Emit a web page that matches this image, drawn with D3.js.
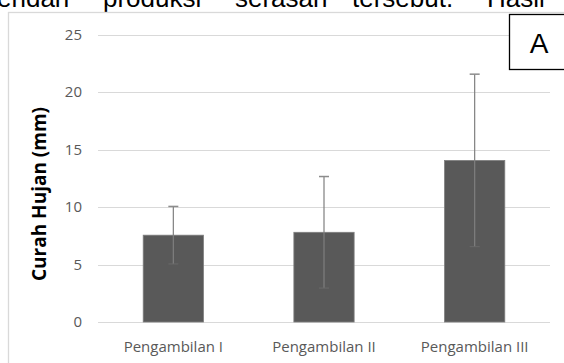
<!DOCTYPE html>
<html>
<head>
<meta charset="utf-8">
<script src="https://cdn.jsdelivr.net/npm/d3@7"></script>
<style>
  html, body { margin: 0; padding: 0; background: #fff; }
  svg { display: block; }
</style>
</head>
<body>
<svg id="chart" width="564" height="363"></svg>
<script>
// Rainfall per sampling round, mean with standard deviation
const categories = ["Pengambilan I", "Pengambilan II", "Pengambilan III"];
const means = [7.55, 7.8, 14.05];
const errors = [2.5, 4.85, 7.5];
const yTicks = [0, 5, 10, 15, 20, 25];
const bodyWords = ["endan", "produksi", "serasan", "tersebut.", "Hasil"];

const svg = d3.select("#chart");
const W = 564, H = 363;

// Running paragraph text above the figure (clipped by the page top)
const wordX = [-3, 103, 235, 352, 487];
svg.selectAll("text.body").data(bodyWords).join("text")
  .attr("class", "body")
  .attr("x", (d, i) => wordX[i])
  .attr("y", 7)
  .attr("font-family", "Liberation Sans, Arial, sans-serif")
  .attr("font-size", 26)
  .attr("fill", "#000")
  .text(d => d);

// Chart area border
svg.append("rect")
  .attr("x", 8.5).attr("y", 12.5)
  .attr("width", W + 10).attr("height", H + 10)
  .attr("fill", "#fff")
  .attr("stroke", "#d9d9d9").attr("stroke-width", 1.3);

const plot = { left: 98, right: 550, top: 34.5, bottom: 322 };

const x = d3.scaleBand().domain(categories)
  .range([plot.left, plot.right]).paddingInner(0.6).paddingOuter(0.3);
const y = d3.scaleLinear().domain([0, 25]).range([plot.bottom, plot.top]);

// Gridlines
svg.append("g").selectAll("line").data(yTicks).join("line")
  .attr("x1", plot.left).attr("x2", plot.right)
  .attr("y1", d => Math.round(y(d)) + 0.5).attr("y2", d => Math.round(y(d)) + 0.5)
  .attr("stroke", "#d9d9d9").attr("stroke-width", 1);

const labelFont = "Open Sans, Liberation Sans, sans-serif";

// Y axis tick labels
const yAxis = d3.axisLeft(y).tickValues(yTicks).tickSize(0).tickPadding(0);
const yg = svg.append("g").attr("transform", `translate(${plot.left - 16},0)`).call(yAxis);
yg.select(".domain").remove();
yg.selectAll("text")
  .attr("font-family", labelFont)
  .attr("font-size", 15).attr("fill", "#595959");

// X axis category labels
const xAxis = d3.axisBottom(x).tickSize(0).tickPadding(0);
const xg = svg.append("g").attr("transform", `translate(0,352)`).call(xAxis);
xg.select(".domain").remove();
xg.selectAll("text")
  .attr("y", 0).attr("dy", 0)
  .attr("font-family", labelFont)
  .attr("font-size", 15).attr("fill", "#595959");

// Bars
svg.append("g").selectAll("rect").data(means).join("rect")
  .attr("x", (d, i) => x(categories[i]))
  .attr("width", x.bandwidth())
  .attr("y", d => y(d))
  .attr("height", d => y(0) - y(d))
  .attr("fill", "#595959")
  .attr("stroke", "#7f7f7f").attr("stroke-width", 0.8);

// Error bars
const eb = svg.append("g").selectAll("g").data(means).join("g")
  .attr("transform", (d, i) => `translate(${x(categories[i]) + x.bandwidth() / 2},0)`);
eb.append("line")
  .attr("y1", (d, i) => y(d + errors[i])).attr("y2", (d, i) => y(d - errors[i]))
  .attr("stroke", "#7f7f7f").attr("stroke-width", 1.2);
eb.append("line")
  .attr("x1", -5).attr("x2", 5)
  .attr("y1", (d, i) => y(d + errors[i])).attr("y2", (d, i) => y(d + errors[i]))
  .attr("stroke", "#8c8c8c").attr("stroke-width", 1.5);
eb.append("line")
  .attr("x1", -5).attr("x2", 5)
  .attr("y1", (d, i) => y(d - errors[i])).attr("y2", (d, i) => y(d - errors[i]))
  .attr("stroke", "#6a6a6a").attr("stroke-width", 1);

// Y axis title
svg.append("text")
  .attr("transform", `translate(46,194) rotate(-90)`)
  .attr("text-anchor", "middle")
  .attr("font-family", labelFont)
  .attr("font-weight", "bold").attr("font-size", 19)
  .attr("fill", "#000")
  .text("Curah Hujan (mm)");

// Panel letter box
svg.append("rect")
  .attr("x", 509.5).attr("y", 14.5)
  .attr("width", 70).attr("height", 55)
  .attr("fill", "#fff").attr("stroke", "#000").attr("stroke-width", 1.3);
svg.append("text")
  .attr("x", 539).attr("y", 53)
  .attr("text-anchor", "middle")
  .attr("font-family", "Liberation Sans, Arial, sans-serif")
  .attr("font-size", 28).attr("fill", "#000")
  .text("A");
</script>
</body>
</html>
